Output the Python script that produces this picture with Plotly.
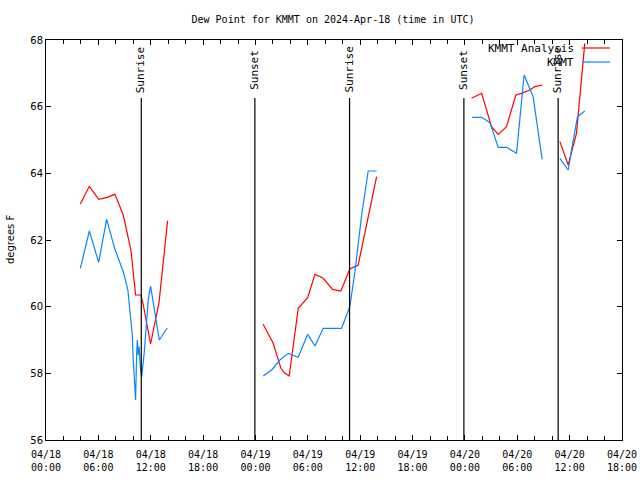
import plotly.graph_objects as go

# ---- data ----
analysis_times = [
    "2024-04-18 03:56", "2024-04-18 04:58", "2024-04-18 06:02", "2024-04-18 07:00",
    "2024-04-18 07:54", "2024-04-18 08:51", "2024-04-18 09:44", "2024-04-18 10:16",
    "2024-04-18 10:53", "2024-04-18 11:09", "2024-04-18 11:59", "2024-04-18 12:57",
    "2024-04-18 13:56",
    None,
    "2024-04-19 00:53", "2024-04-19 01:28", "2024-04-19 02:02", "2024-04-19 02:55",
    "2024-04-19 03:23", "2024-04-19 03:52", "2024-04-19 04:54", "2024-04-19 05:59",
    "2024-04-19 06:49", "2024-04-19 07:46", "2024-04-19 08:50", "2024-04-19 09:47",
    "2024-04-19 10:49", "2024-04-19 11:46", "2024-04-19 12:32", "2024-04-19 13:53",
    None,
    "2024-04-20 00:46", "2024-04-20 01:55", "2024-04-20 03:03", "2024-04-20 03:49",
    "2024-04-20 04:46", "2024-04-20 05:50", "2024-04-20 06:29", "2024-04-20 07:26",
    "2024-04-20 08:00", "2024-04-20 08:54",
    None,
    "2024-04-20 10:53", "2024-04-20 11:50", "2024-04-20 12:47", "2024-04-20 13:44",
]
analysis_values = [
    63.08, 63.61, 63.22, 63.28,
    63.37, 62.75, 61.70, 60.35,
    60.35, 60.05, 58.88, 60.12,
    62.58,
    None,
    59.47, 59.20, 58.90, 58.15,
    58.00, 57.92, 59.95, 60.27,
    60.97, 60.85, 60.52, 60.47,
    61.13, 61.25, 62.25, 63.90,
    None,
    66.25, 66.40, 65.40, 65.17,
    65.40, 66.35, 66.40, 66.50,
    66.60, 66.65,
    None,
    64.95, 64.25, 65.20, 67.90,
]

obs_times = [
    "2024-04-18 03:56", "2024-04-18 04:58", "2024-04-18 06:02", "2024-04-18 06:57",
    "2024-04-18 07:54", "2024-04-18 08:51", "2024-04-18 09:23", "2024-04-18 09:53",
    "2024-04-18 10:00", "2024-04-18 10:16", "2024-04-18 10:23", "2024-04-18 10:28",
    "2024-04-18 10:34", "2024-04-18 10:40", "2024-04-18 10:50", "2024-04-18 10:58",
    "2024-04-18 11:16", "2024-04-18 11:43", "2024-04-18 11:59", "2024-04-18 12:29",
    "2024-04-18 12:59", "2024-04-18 13:53",
    None,
    "2024-04-19 00:53", "2024-04-19 01:51", "2024-04-19 02:48", "2024-04-19 03:45",
    "2024-04-19 04:54", "2024-04-19 05:59", "2024-04-19 06:49", "2024-04-19 07:46",
    "2024-04-19 09:52", "2024-04-19 10:49", "2024-04-19 11:24", "2024-04-19 12:10",
    "2024-04-19 12:55", "2024-04-19 13:53",
    None,
    "2024-04-20 00:50", "2024-04-20 01:55", "2024-04-20 02:52", "2024-04-20 03:49",
    "2024-04-20 04:46", "2024-04-20 05:55", "2024-04-20 06:47", "2024-04-20 07:49",
    "2024-04-20 08:51",
    None,
    "2024-04-20 10:53", "2024-04-20 11:50", "2024-04-20 12:13", "2024-04-20 12:54",
    "2024-04-20 13:44",
]
obs_values = [
    61.15, 62.27, 61.33, 62.62,
    61.72, 61.05, 60.50, 59.15,
    58.40, 57.20, 58.55, 59.00,
    58.55, 58.80, 58.10, 57.90,
    58.65, 60.20, 60.62, 59.81,
    59.00, 59.36,
    None,
    57.92, 58.10, 58.40, 58.60,
    58.48, 59.17, 58.82, 59.35,
    59.35, 60.00, 61.05, 62.75,
    64.07, 64.07,
    None,
    65.68, 65.68, 65.52, 64.78,
    64.78, 64.60, 66.95, 66.30,
    64.42,
    None,
    64.45, 64.10, 64.70, 65.70,
    65.87,
]

sun_events = ["Sunrise", "Sunset", "Sunrise", "Sunset", "Sunrise"]
sun_times = ["2024-04-18 10:55", "2024-04-18 23:56", "2024-04-19 10:47",
             "2024-04-19 23:53", "2024-04-20 10:41"]

tick_times = ["2024-04-18 00:00", "2024-04-18 06:00", "2024-04-18 12:00", "2024-04-18 18:00",
              "2024-04-19 00:00", "2024-04-19 06:00", "2024-04-19 12:00", "2024-04-19 18:00",
              "2024-04-20 00:00", "2024-04-20 06:00", "2024-04-20 12:00", "2024-04-20 18:00"]
tick_labels = ["04/18<br>00:00", "04/18<br>06:00", "04/18<br>12:00", "04/18<br>18:00",
               "04/19<br>00:00", "04/19<br>06:00", "04/19<br>12:00", "04/19<br>18:00",
               "04/20<br>00:00", "04/20<br>06:00", "04/20<br>12:00", "04/20<br>18:00"]

series_names = ["KMMT Analysis", "KMMT"]
series_colors = ["#ff0000", "#0a84ff"]

# ---- figure ----
MONO = "DejaVu Sans Mono"
W, H = 640, 480
L, R, T, B = 46, 18, 40, 40
pw, ph = W - L - R, H - T - B

def px_x(px):
    return (px - L) / pw

def px_y(py):
    return (H - B - py) / ph

fig = go.Figure()
fig.add_trace(go.Scatter(x=analysis_times, y=analysis_values, mode="lines",
                         name=series_names[0], connectgaps=False,
                         line=dict(color=series_colors[0], width=1.2)))
fig.add_trace(go.Scatter(x=obs_times, y=obs_values, mode="lines",
                         name=series_names[1], connectgaps=False,
                         line=dict(color=series_colors[1], width=1.2)))

shapes = []
annotations = []
for name, t in zip(sun_events, sun_times):
    shapes.append(dict(type="line", xref="x", yref="paper", x0=t, x1=t,
                       y0=0, y1=px_y(98), line=dict(color="black", width=1.2)))
    annotations.append(dict(x=t, xref="x", y=px_y(70), yref="paper", text=name,
                            textangle=-90, showarrow=False,
                            xanchor="center", yanchor="middle",
                            font=dict(family=MONO, size=11, color="black")))

# legend (gnuplot style: text then sample)
for i, (nm, col) in enumerate(zip(series_names, series_colors)):
    ly = 48 + 14 * i
    annotations.append(dict(x=px_x(576), xref="paper", y=px_y(ly), yref="paper",
                            text=nm, xanchor="right", yanchor="middle", showarrow=False,
                            font=dict(family=MONO, size=11, color="black")))
    shapes.append(dict(type="line", xref="paper", yref="paper",
                       x0=px_x(582), x1=px_x(610), y0=px_y(ly), y1=px_y(ly),
                       line=dict(color=col, width=1.2)))

annotations.append(dict(x=px_x(10), xref="paper", y=0.5, yref="paper",
                        text="degrees F", textangle=-90, showarrow=False,
                        xanchor="center", yanchor="middle",
                        font=dict(family="DejaVu Sans", size=10, color="black")))

fig.update_layout(
    width=W, height=H,
    margin=dict(l=L, r=R, t=T, b=B, pad=0, autoexpand=False),
    paper_bgcolor="white", plot_bgcolor="white",
    showlegend=False,
    title=dict(text="Dew Point for KMMT on 2024-Apr-18 (time in UTC)",
               xref="paper", x=px_x(333), xanchor="center",
               yref="container", y=1 - 19 / H, yanchor="middle",
               font=dict(family=MONO, size=10, color="black")),
    shapes=shapes, annotations=annotations,
    xaxis=dict(type="date", range=["2024-04-18 00:00", "2024-04-20 18:00"],
               tickmode="array", tickvals=tick_times, ticktext=tick_labels,
               ticks="inside", ticklen=5, tickcolor="black", automargin=False,
               ticklabelstandoff=5,
               showline=True, linecolor="black", linewidth=1, mirror="ticks",
               showgrid=False, zeroline=False,
               tickfont=dict(family=MONO, size=10, color="black"),
               minor=dict(dtick=2 * 3600 * 1000, tick0="2024-04-18 00:00",
                          ticks="inside", ticklen=4, tickcolor="black", showgrid=False)),
    yaxis=dict(range=[56, 68], dtick=2, tick0=56, automargin=False,
               ticks="inside", ticklen=5, tickcolor="black",
               showline=True, linecolor="black", linewidth=1, mirror="ticks",
               showgrid=False, zeroline=False,
               tickfont=dict(family="DejaVu Sans", size=10, color="black")),
)

fig.write_html("out.html", config={"displayModeBar": False},
               post_script="document.body.style.margin='0';document.body.style.padding='0';")
